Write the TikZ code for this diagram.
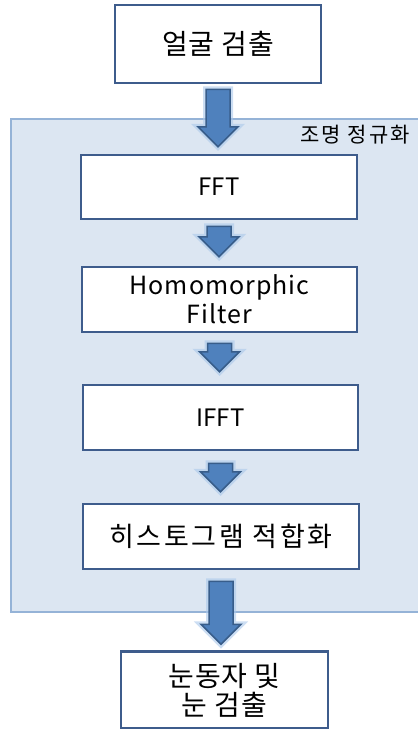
\documentclass[tikz,border=0pt]{standalone}
\usepackage{fontspec}
\setmainfont{Noto Sans CJK KR}
\usetikzlibrary{calc}
\definecolor{boxline}{RGB}{62,92,140}
\definecolor{bgfill}{RGB}{220,230,242}
\definecolor{bgline}{RGB}{149,179,215}
\definecolor{arrfill}{RGB}{79,129,189}
\definecolor{arrline}{RGB}{56,93,138}
\definecolor{glow}{RGB}{170,200,235}
\tikzset{
  stepbox/.style={draw=boxline, line width=2.5pt, fill=white, inner sep=0pt, align=center, font=\fontsize{24}{29}\selectfont},
  korbox/.style={stepbox, font=\fontsize{27}{29}\selectfont\addfontfeature{LetterSpace=10}},
  bigbox/.style={stepbox, font=\fontsize{28}{29}\selectfont\addfontfeature{LetterSpace=3}},
  blockarr/.style={fill=arrfill, draw=arrline, line width=1.5pt, line join=miter,
    preaction={draw=glow, line width=6pt, opacity=0.6}},
}
\newcommand{\blockarrow}[4]{% from, to, top gap, bottom gap
  \path[blockarr] let \p1=($(#1.south)+(0,-#3)$), \p2=($(#2.north)+(0,#4)$) in
    (\x1-12pt,\y1) -- (\x1+12pt,\y1) -- (\x1+12pt,\y2+20pt) -- (\x1+20pt,\y2+20pt)
    -- (\x1,\y2) -- (\x1-20pt,\y2+20pt) -- (\x1-12pt,\y2+20pt) -- cycle;}
\begin{document}
\begin{tikzpicture}[x=1pt,y=-1pt]
\useasboundingbox (0,0) rectangle (418,729);
\clip (0,0) rectangle (418,729);
% background group
\node[draw=bgline, fill=bgfill, line width=2pt, inner sep=0pt, minimum width=430pt, minimum height=493pt, anchor=north west] (bg) at (10,118) {};
\node[anchor=east, font=\fontsize{21}{24}\selectfont\addfontfeature{LetterSpace=10}, inner sep=0pt] (bglabel) at (410,135) {조명 정규화};
% boxes
\node[bigbox, minimum width=206pt, minimum height=78pt] (face) at (218,44) {얼굴 검출};
\node[stepbox, minimum width=276pt, minimum height=64pt] (fft) at (219,187) {FFT};
\node[stepbox, minimum width=275pt, minimum height=65pt, font=\fontsize{25}{29}\selectfont\addfontfeature{LetterSpace=4}] (homo) at (219.5,299.5) {Homomorphic\\Filter};
\node[stepbox, minimum width=275pt, minimum height=65pt] (ifft) at (220.5,417.5) {IFFT};
\node[korbox, minimum width=276pt, minimum height=65pt] (hist) at (221,536.5) {히스토그램 적합화};
\node[bigbox, minimum width=207pt, minimum height=77pt] (eye) at (224.5,690) {눈동자 및\\눈 검출};
% arrows
\blockarrow{face}{fft}{5pt}{7pt}
\blockarrow{fft}{homo}{6pt}{9pt}
\blockarrow{homo}{ifft}{10pt}{12pt}
\blockarrow{ifft}{hist}{12pt}{11pt}
\blockarrow{hist}{eye}{11pt}{6pt}
\end{tikzpicture}
\end{document}
